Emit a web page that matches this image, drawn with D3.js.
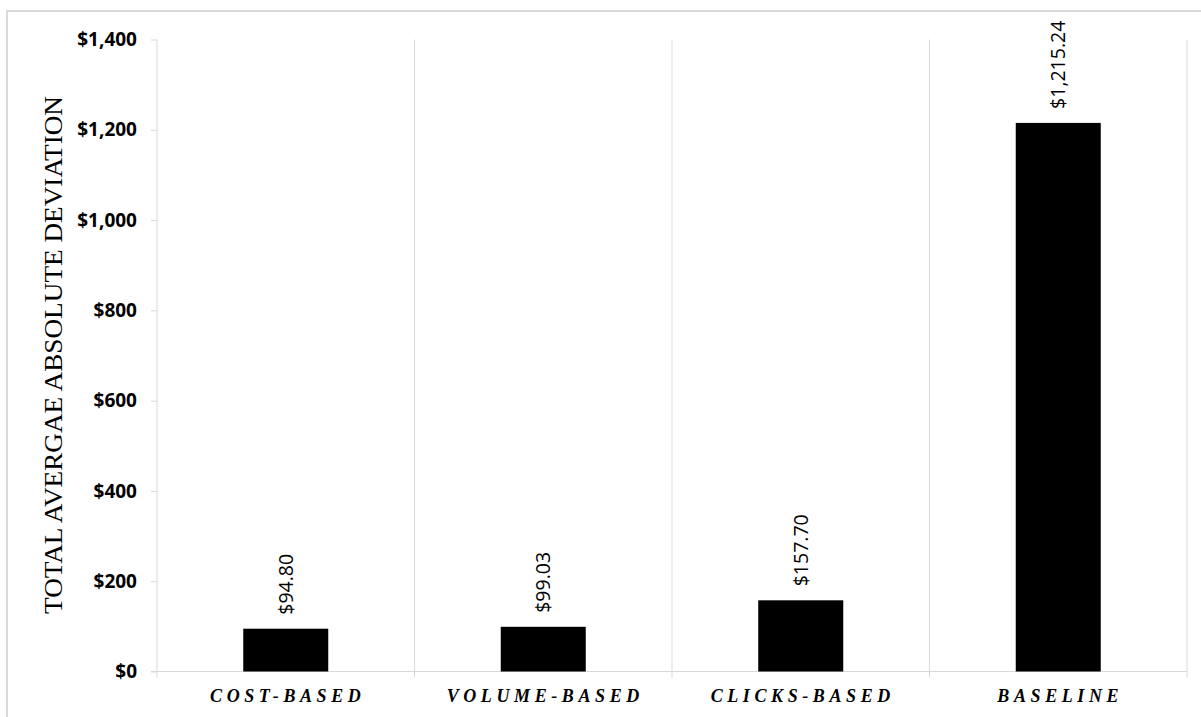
<!DOCTYPE html>
<html>
<head>
<meta charset="utf-8">
<script src="https://cdn.jsdelivr.net/npm/d3@7"></script>
<style>
  html, body { margin: 0; padding: 0; background: #fff; }
  svg { display: block; }
</style>
</head>
<body>
<svg id="chart" width="1201" height="717"></svg>
<script>
// Total average absolute deviation per allocation method
const categories = ["COST-BASED", "VOLUME-BASED", "CLICKS-BASED", "BASELINE"];
const values = [94.80, 99.03, 157.70, 1215.24];
const yTicks = [0, 200, 400, 600, 800, 1000, 1200, 1400];
const yTitle = "TOTAL AVERGAE ABSOLUTE DEVIATION";

const svg = d3.select("#chart");
const gridColor = "#d9d9d9";

// outer frame
svg.append("rect")
  .attr("x", 7).attr("y", 11)
  .attr("width", 1220).attr("height", 740)
  .attr("fill", "#fff")
  .attr("stroke", gridColor)
  .attr("stroke-width", 2);

const plotLeft = 157, plotRight = 1187, plotTop = 39.5, plotBottom = 671.5;

const x = d3.scaleBand().domain(categories).range([plotLeft, plotRight]).paddingInner(0).paddingOuter(0);
const y = d3.scaleLinear().domain([0, 1400]).range([plotBottom, plotTop]);
const fmtTick = v => "$" + d3.format(",")(v);
const fmtVal = v => "$" + d3.format(",.2f")(v);

// category separators (vertical gridlines), extending below baseline as ticks
const bounds = categories.map(c => x(c)).concat([plotRight]);
svg.append("g").selectAll("line")
  .data(bounds)
  .join("line")
  .attr("x1", d => d).attr("x2", d => d)
  .attr("y1", plotTop).attr("y2", plotBottom + 6)
  .attr("stroke", gridColor)
  .attr("stroke-width", 1);

// baseline
svg.append("line")
  .attr("x1", plotLeft - 6).attr("x2", plotRight)
  .attr("y1", plotBottom).attr("y2", plotBottom)
  .attr("stroke", gridColor).attr("stroke-width", 1);

// y axis ticks and labels
const yAxis = d3.axisLeft(y).tickValues(yTicks).tickFormat(fmtTick).tickSize(6).tickPadding(14);
const gy = svg.append("g").attr("transform", `translate(${plotLeft},0)`).call(yAxis);
gy.select(".domain").remove();
gy.selectAll(".tick line").attr("stroke", gridColor);
gy.selectAll(".tick text")
  .attr("fill", "#000")
  .attr("font-family", "'Open Sans', sans-serif")
  .attr("font-weight", "bold")
  .attr("font-size", 19);

// bars
const barW = 85;
svg.append("g").selectAll("rect")
  .data(values)
  .join("rect")
  .attr("x", (d, i) => x(categories[i]) + x.bandwidth() / 2 - barW / 2)
  .attr("y", d => y(d))
  .attr("width", barW)
  .attr("height", d => y(0) - y(d))
  .attr("fill", "#000");

// value labels, rotated
svg.append("g").selectAll("text")
  .data(values)
  .join("text")
  .attr("transform", (d, i) => `translate(${x(categories[i]) + x.bandwidth() / 2},${y(d) - 14}) rotate(-90)`)
  .attr("dy", "0.35em")
  .attr("text-anchor", "start")
  .attr("font-family", "'Open Sans', sans-serif")
  .attr("font-size", 19.5)
  .attr("fill", "#000")
  .text(d => fmtVal(d));

// category labels
svg.append("g").selectAll("text")
  .data(categories)
  .join("text")
  .attr("x", d => x(d) + x.bandwidth() / 2 + 2)
  .attr("y", 702)
  .attr("text-anchor", "middle")
  .attr("font-family", "'Liberation Serif', 'Times New Roman', serif")
  .attr("font-weight", "bold")
  .attr("font-style", "italic")
  .attr("font-size", 18)
  .style("letter-spacing", "4.6px")
  .attr("fill", "#000")
  .text(d => d);

// y axis title
svg.append("text")
  .attr("transform", "translate(62,355) rotate(-90)")
  .attr("text-anchor", "middle")
  .attr("font-family", "'Liberation Serif', 'Times New Roman', serif")
  .attr("font-size", 26)
  .attr("textLength", 518)
  .attr("lengthAdjust", "spacingAndGlyphs")
  .attr("fill", "#000")
  .text(yTitle);
</script>
</body>
</html>
